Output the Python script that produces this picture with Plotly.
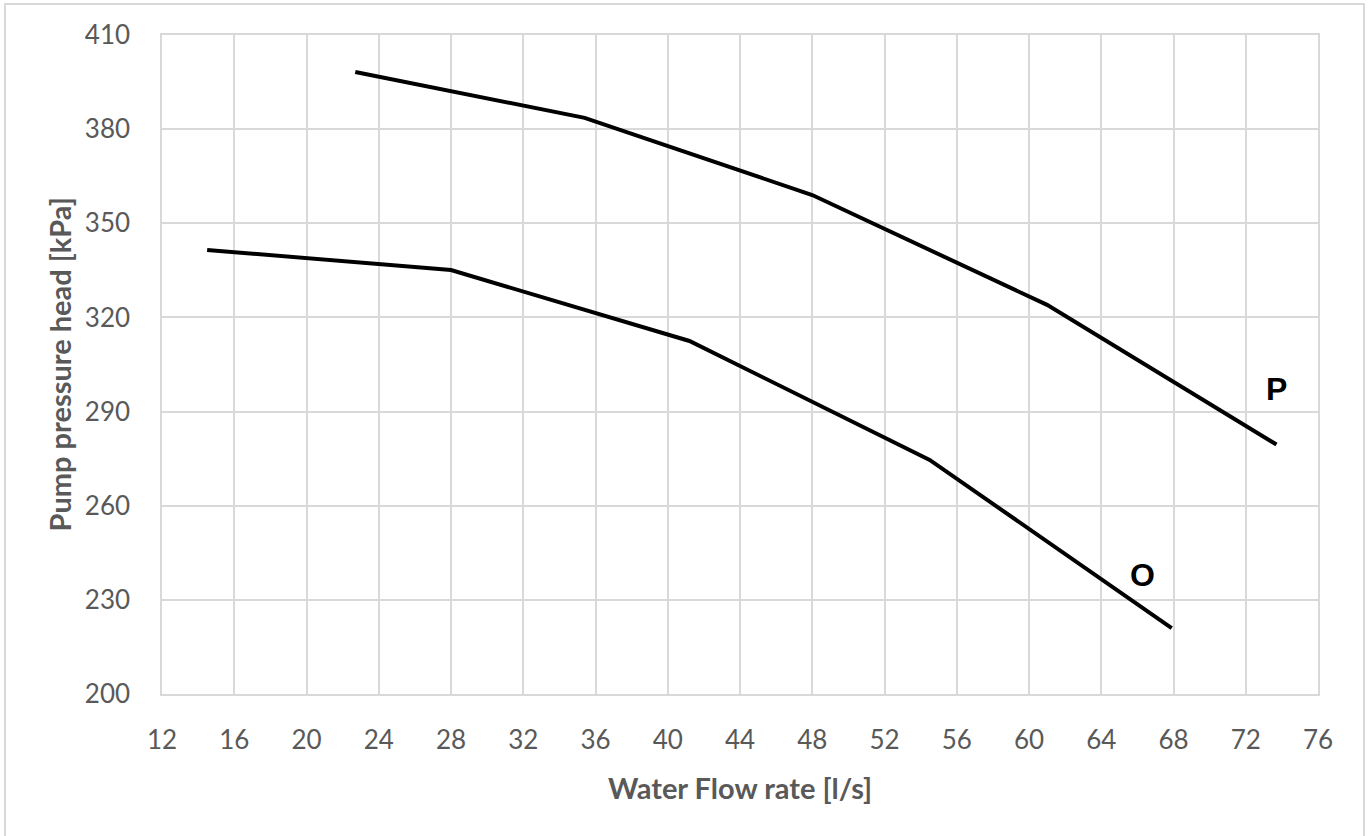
import plotly.graph_objects as go

# Data
p_flow = [22.7, 35.4, 48.0, 61.0, 73.7]
p_head = [398.2, 383.6, 359.0, 324.0, 279.5]
o_flow = [14.5, 28.0, 41.2, 54.5, 67.9]
o_head = [341.5, 335.1, 312.5, 274.6, 221.0]

x_ticks = list(range(12, 77, 4))
y_ticks = list(range(200, 411, 30))

W, H = 1370, 836
ml, mr, mt, mb = 162, 52, 35, 142
font_family = "Lato, 'Open Sans', sans-serif"
gray = "#595959"

fig = go.Figure()
fig.add_trace(go.Scatter(x=p_flow, y=p_head, mode="lines",
                         line=dict(color="black", width=4), name="P", showlegend=False))
fig.add_trace(go.Scatter(x=o_flow, y=o_head, mode="lines",
                         line=dict(color="black", width=4), name="O", showlegend=False))

fig.add_annotation(x=73.7, y=297.2, text="<b>P</b>", showarrow=False,
                   font=dict(size=32, color="black", family="Liberation Sans, Arial"))
fig.add_annotation(x=66.3, y=238.0, text="<b>O</b>", showarrow=False,
                   font=dict(size=32, color="black", family="Liberation Sans, Arial"))

pw = W - ml - mr
ph = H - mt - mb
# axis titles
fig.add_annotation(xref="paper", yref="paper", x=0.5, y=(694 - 787) / ph,
                   text="<b>Water Flow rate [l/s]</b>", showarrow=False,
                   font=dict(size=29, color=gray), xanchor="center", yanchor="middle")
fig.add_annotation(xref="paper", yref="paper", x=(59 - ml) / pw, y=0.5, textangle=-90,
                   text="<b>Pump pressure head [kPa]</b>", showarrow=False,
                   font=dict(size=29, color=gray), xanchor="center", yanchor="middle")

# outer chart border (paper coordinates relative to plot area)
x0 = (5 - ml) / pw
x1 = (1364 - ml) / pw
y1 = 1 + (mt - 4) / ph
y0 = -(H - mt - ph + 10) / ph
fig.add_shape(type="rect", xref="paper", yref="paper", x0=x0, x1=x1, y0=y0, y1=y1,
              line=dict(color="#d9d9d9", width=2), layer="below")

fig.update_layout(
    width=W, height=H,
    margin=dict(l=ml, r=mr, t=mt, b=mb),
    paper_bgcolor="white", plot_bgcolor="white",
    font=dict(family=font_family, size=26, color=gray),
    xaxis=dict(range=[12, 76], tickvals=x_ticks, showgrid=True, gridcolor="#d9d9d9",
               gridwidth=1.5, showline=True, linecolor="#d9d9d9", linewidth=1.5,
               mirror=True, zeroline=False, ticks="", ticklabelstandoff=22),
    yaxis=dict(range=[200, 410], tickvals=y_ticks, showgrid=True, gridcolor="#d9d9d9",
               gridwidth=1.5, showline=True, linecolor="#d9d9d9", linewidth=1.5,
               mirror=True, zeroline=False, ticks="", ticklabelstandoff=25),
)

fig.write_html("out.html", config={"displayModeBar": False},
               post_script="document.body.style.margin='0';document.body.style.overflow='hidden';")
